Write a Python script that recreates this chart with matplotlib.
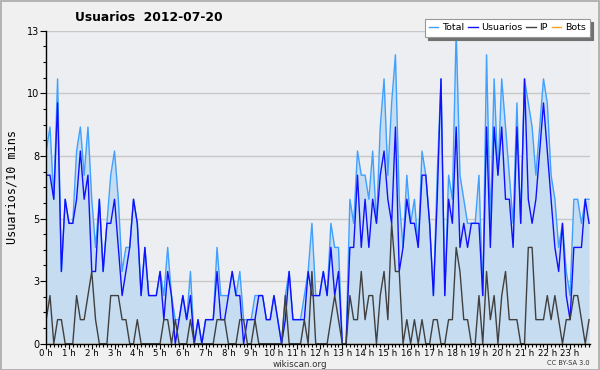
import numpy as np
import matplotlib
matplotlib.use("Agg")
import matplotlib.pyplot as plt
from matplotlib.patches import Rectangle
from matplotlib.ticker import FixedLocator, MultipleLocator

# 10-minute buckets over one day (144 points)
usuarios = [
    7, 7, 6, 10, 3, 6, 5, 5, 6, 8, 6, 7, 3, 3, 6, 3, 5, 5, 6, 4, 2, 3, 4, 6,
    5, 2, 4, 2, 2, 2, 3, 1, 3, 2, 0, 1, 2, 1, 2, 0, 1, 0, 1, 1, 1, 3, 1, 1,
    2, 3, 2, 2, 0, 1, 1, 1, 2, 2, 1, 1, 2, 1, 0, 1, 3, 1, 1, 1, 1, 3, 2, 2,
    2, 3, 2, 4, 2, 3, 0, 0, 4, 4, 7, 4, 6, 4, 6, 5, 7, 8, 6, 5, 9, 3, 4, 6,
    5, 5, 4, 7, 7, 5, 2, 6, 11, 2, 6, 5, 9, 4, 5, 4, 5, 5, 5, 2, 9, 4, 9, 7,
    9, 6, 6, 4, 9, 5, 11, 6, 5, 6, 8, 10, 8, 6, 4, 3, 5, 2, 1, 4, 4, 4, 6, 5,
]
ip = [
    1, 2, 0, 1, 1, 0, 0, 0, 2, 1, 1, 2, 3, 1, 0, 0, 0, 2, 2, 2, 1, 1, 0, 0,
    1, 0, 0, 0, 0, 0, 0, 1, 1, 0, 1, 0, 0, 0, 1, 0, 0, 0, 0, 0, 0, 1, 1, 1,
    0, 0, 0, 1, 1, 0, 0, 1, 0, 0, 0, 0, 0, 0, 0, 2, 0, 0, 0, 0, 1, 0, 3, 0,
    0, 0, 0, 1, 2, 1, 0, 0, 2, 1, 1, 3, 1, 2, 2, 0, 2, 3, 1, 5, 3, 3, 0, 1,
    0, 1, 0, 1, 0, 0, 1, 1, 0, 0, 1, 1, 4, 3, 1, 1, 0, 0, 2, 0, 3, 1, 2, 0,
    2, 3, 1, 1, 1, 0, 0, 4, 4, 1, 1, 1, 2, 1, 2, 1, 0, 1, 1, 2, 2, 1, 0, 1,
]
total = [
    8, 9, 6, 11, 3, 6, 5, 5, 8, 9, 7, 9, 6, 4, 6, 3, 5, 7, 8, 6, 3, 4, 4, 6,
    5, 2, 4, 2, 2, 2, 3, 2, 4, 2, 1, 1, 2, 1, 3, 0, 1, 0, 1, 1, 1, 4, 2, 2,
    2, 3, 2, 3, 1, 1, 1, 2, 2, 2, 1, 1, 2, 1, 0, 2, 3, 1, 1, 1, 2, 3, 5, 2,
    2, 3, 2, 5, 4, 4, 0, 0, 6, 5, 8, 7, 7, 6, 8, 5, 9, 11, 7, 10, 12, 6, 4, 7,
    5, 6, 4, 8, 7, 5, 2, 7, 11, 2, 7, 6, 13, 7, 6, 5, 5, 5, 7, 2, 12, 5, 11, 7,
    11, 9, 7, 5, 10, 5, 11, 10, 9, 7, 9, 11, 10, 7, 6, 4, 5, 3, 2, 6, 6, 5, 6, 6,
]
bots = [0] * 144

hour_labels = [f"{h} h" for h in range(24)]
y_ticks = [0, 2.6, 5.2, 7.8, 10.4, 13]
y_labels = ["0", "3", "5", "8", "10", "13"]

x = np.arange(len(total))

fig = plt.figure(figsize=(6, 3.7), dpi=100, facecolor="#f0f0f0")
ax = fig.add_axes([0.077, 0.071, 0.906, 0.846])
ax.set_facecolor("#eceef1")

ax.fill_between(x, total, color="#c6dcf0", lw=0, zorder=1)
ax.plot(x, total, color="#3fa0ff", lw=1.0, zorder=3, label="Total")
ax.plot(x, usuarios, color="#1010ff", lw=1.0, zorder=4, label="Usuarios")
ax.plot(x, ip, color="#404040", lw=1.0, zorder=5, label="IP")
ax.plot(x, bots, color="#ffa020", lw=1.0, zorder=2, label="Bots")

ax.set_xlim(0, 143.2)
ax.set_ylim(0, 13)

ax.yaxis.set_major_locator(FixedLocator(y_ticks))
ax.set_yticklabels(y_labels)
ax.yaxis.set_minor_locator(MultipleLocator(0.65))
ax.xaxis.set_major_locator(FixedLocator(np.arange(24) * 6))
ax.set_xticklabels(hour_labels)
ax.xaxis.set_minor_locator(MultipleLocator(1))

ax.tick_params(axis="y", which="major", labelsize=7, length=4, width=0.8, pad=1)
ax.tick_params(axis="x", which="major", labelsize=6.2, length=3.5, width=0.8, pad=0)
ax.tick_params(axis="both", which="minor", length=2.5, width=0.8)
ax.grid(axis="y", which="major", color="#c8c8c8", lw=1.0, zorder=0)
ax.set_axisbelow(True)

for side in ("top", "right"):
    ax.spines[side].set_visible(False)
for side in ("left", "bottom"):
    ax.spines[side].set_color("black")
    ax.spines[side].set_linewidth(1.0)
    ax.spines[side].set_zorder(6)

ax.set_ylabel("Usuarios/10 mins", fontsize=8.5, family="DejaVu Sans Mono", labelpad=6)

fig.text(0.125, 0.952, "Usuarios  2012-07-20", fontsize=8.8, fontweight="bold",
         ha="left", va="center")
fig.text(0.5, 0.016, "wikiscan.org", fontsize=6.3, ha="center", va="center", color="#333333")
fig.text(0.982, 0.018, "CC BY-SA 3.0", fontsize=4.8, ha="right", va="center", color="#333333")

leg = fig.legend(loc="upper right", bbox_to_anchor=(0.983, 0.948), ncol=4,
                 fontsize=6.8, frameon=True, fancybox=False, shadow={"color": "#707070", "alpha": 1},
                 handlelength=1.0, handletextpad=0.35, columnspacing=0.45,
                 borderpad=0.45, borderaxespad=0)
leg.get_frame().set_facecolor("white")
leg.get_frame().set_edgecolor("#999999")
leg.get_frame().set_linewidth(0.8)

fig.patches.append(Rectangle((0.001, 0.001), 0.997, 0.996, transform=fig.transFigure,
                             fill=False, edgecolor="#a8a8a8", lw=1.2))

fig.savefig("out.png", dpi=100, facecolor=fig.get_facecolor())
